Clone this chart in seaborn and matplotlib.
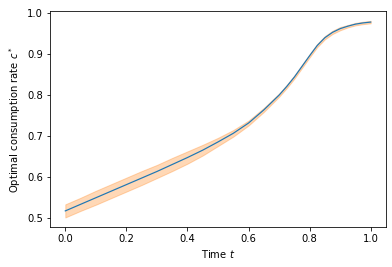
import numpy as np
import pandas as pd
import matplotlib
matplotlib.use("Agg")
import matplotlib.pyplot as plt
import seaborn as sns

# values
t = [0.0, 0.05, 0.1, 0.15, 0.2, 0.25, 0.3, 0.35, 0.4, 0.45, 0.5,
     0.55, 0.6, 0.65, 0.7, 0.725, 0.75, 0.775, 0.8, 0.825, 0.85,
     0.875, 0.9, 0.925, 0.95, 0.975, 1.0]
c_mean = [0.517, 0.533, 0.549, 0.565, 0.581, 0.597, 0.613, 0.630, 0.647, 0.665, 0.685,
          0.706, 0.731, 0.763, 0.799, 0.820, 0.843, 0.869, 0.895, 0.920, 0.939,
          0.952, 0.961, 0.967, 0.972, 0.975, 0.977]
c_halfwidth = [0.016, 0.016, 0.017, 0.017, 0.017, 0.017, 0.016, 0.016, 0.015, 0.013, 0.010,
               0.008, 0.006, 0.005, 0.004, 0.004, 0.004, 0.004, 0.004, 0.004, 0.004,
               0.004, 0.004, 0.003, 0.003, 0.003, 0.003]

df = pd.DataFrame({"t": t, "c": c_mean, "hw": c_halfwidth})
df["lo"] = df["c"] - df["hw"]
df["hi"] = df["c"] + df["hw"]

fig = plt.figure(figsize=(392 / 72, 267 / 72), dpi=72)
ax = fig.add_axes([0.1276, 0.1487, 0.857, 0.810])

# confidence band
ax.fill_between(df["t"], df["lo"], df["hi"], color="C1", alpha=0.3)
# mean curve
sns.lineplot(data=df, x="t", y="c", color="C0", linewidth=1.2, ax=ax)

ax.set_xlabel("Time $t$")
ax.set_ylabel("Optimal consumption rate $c^*$")
ax.set_yticks([0.5, 0.6, 0.7, 0.8, 0.9, 1.0])

fig.savefig("out.png", dpi=72)
